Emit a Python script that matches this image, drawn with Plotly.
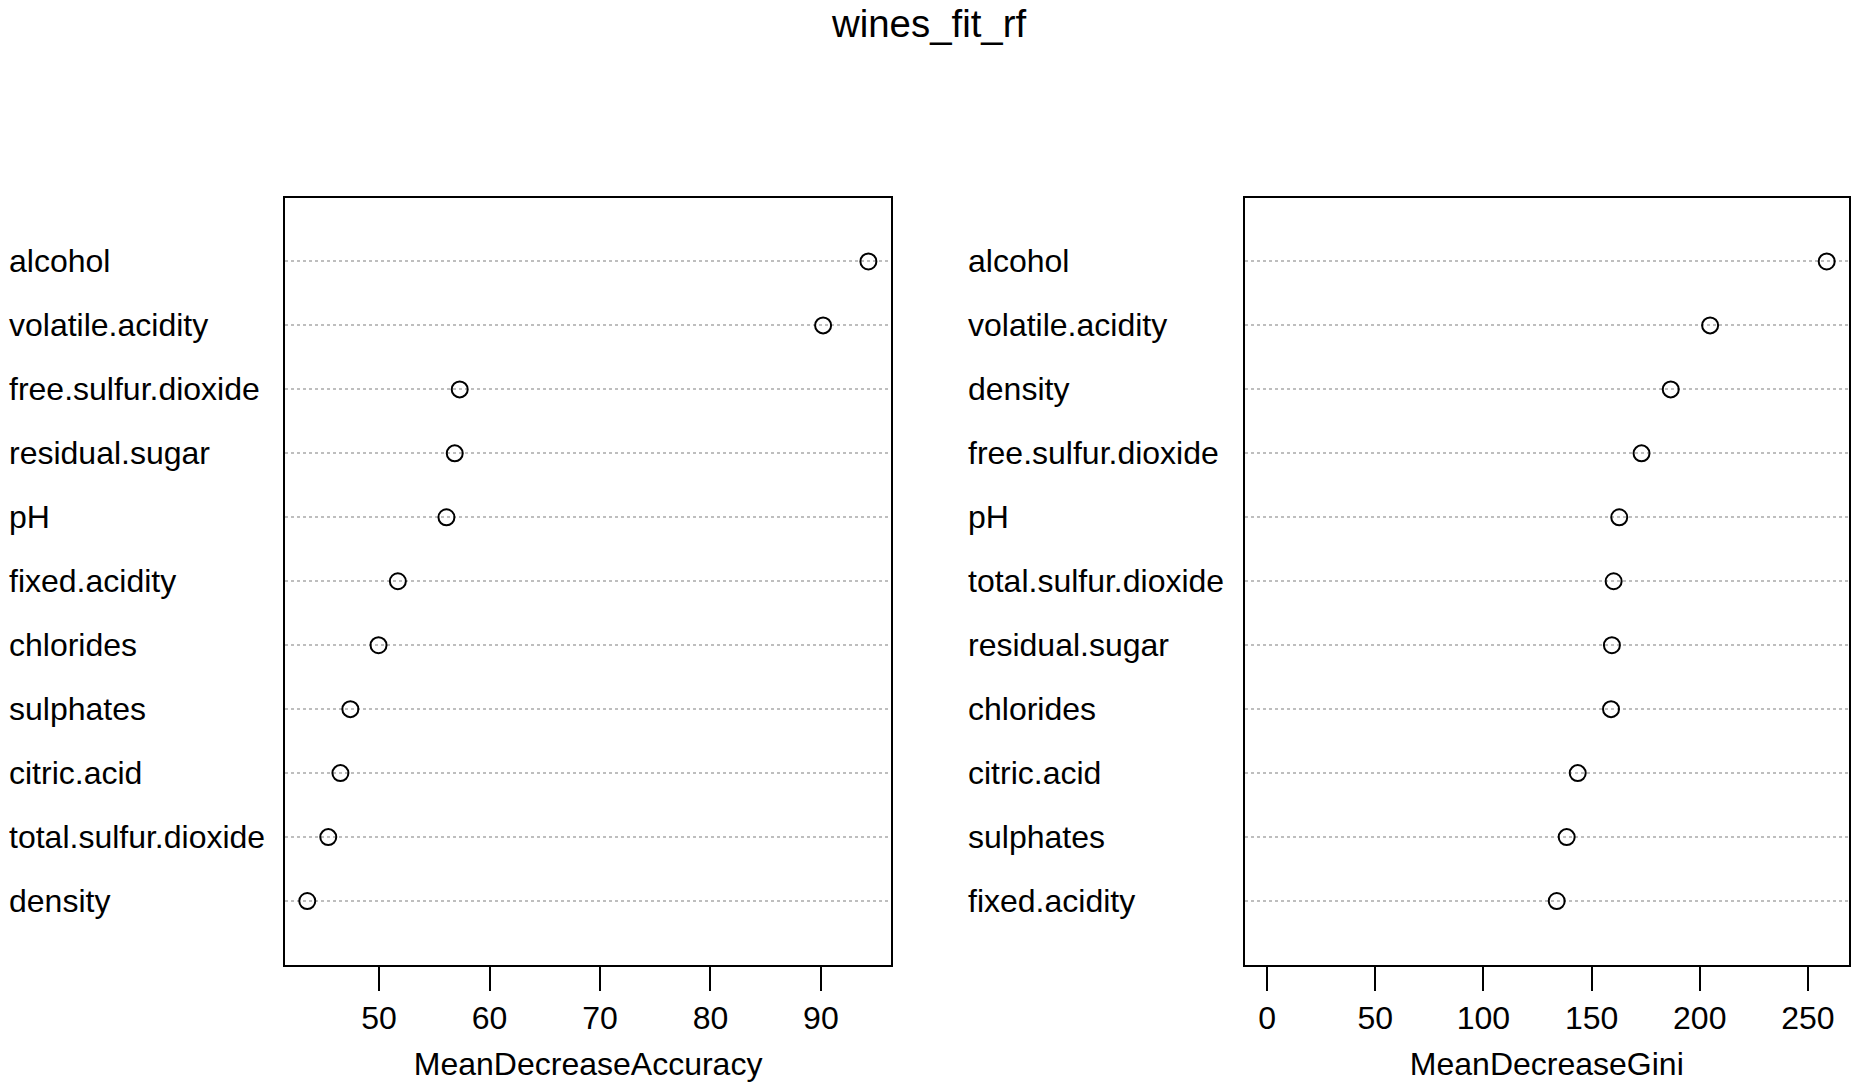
import plotly.graph_objects as go

title_text = "wines_fit_rf"

acc_labels = ["alcohol", "volatile.acidity", "free.sulfur.dioxide", "residual.sugar", "pH",
              "fixed.acidity", "chlorides", "sulphates", "citric.acid",
              "total.sulfur.dioxide", "density"]
acc_values = [94.3, 90.2, 57.3, 56.85, 56.1, 51.7, 49.95, 47.4, 46.5, 45.4, 43.5]

gini_labels = ["alcohol", "volatile.acidity", "density", "free.sulfur.dioxide", "pH",
               "total.sulfur.dioxide", "residual.sugar", "chlorides", "citric.acid",
               "sulphates", "fixed.acidity"]
gini_values = [258.7, 204.8, 186.6, 173.1, 162.8, 160.2, 159.4, 159.0, 143.6, 138.5, 133.9]

acc_ticks = [50, 60, 70, 80, 90]
gini_ticks = [0, 50, 100, 150, 200, 250]

FONT = "Liberation Sans, Arial, Helvetica, sans-serif"
W, H = 1851, 1082

n = len(acc_labels)
rows = [n - i for i in range(n)]

fig = go.Figure()
marker = dict(symbol="circle-open", size=16, color="black", line=dict(width=2, color="black"))
fig.add_trace(go.Scatter(x=acc_values, y=rows, mode="markers", marker=marker,
                         xaxis="x", yaxis="y", showlegend=False, cliponaxis=False))
fig.add_trace(go.Scatter(x=gini_values, y=rows, mode="markers", marker=marker,
                         xaxis="x2", yaxis="y2", showlegend=False, cliponaxis=False))

def xaxis(domain, rng, ticks, title, anchor):
    return dict(domain=domain, range=rng, tickvals=ticks, ticktext=[str(t) for t in ticks],
                ticks="outside", ticklen=24, tickwidth=1.8, tickcolor="black",
                showline=True, mirror=True, linecolor="black", linewidth=1.8,
                showgrid=False, zeroline=False, anchor=anchor,
                tickfont=dict(family=FONT, size=32, color="black"),
                title=dict(text=title, font=dict(family=FONT, size=32, color="black"), standoff=18))

def yaxis(domain, anchor):
    return dict(domain=domain, range=[0, n + 1], tickvals=rows, showticklabels=False,
                ticks="", showline=True, mirror=True, linecolor="black", linewidth=1.8,
                showgrid=True, gridcolor="#BEBEBE", griddash="dot", gridwidth=2,
                zeroline=False, anchor=anchor)

ydom = [1 - 965 / H, 1 - 197.5 / H]
fig.update_layout(
    width=W, height=H,
    margin=dict(l=0, r=0, t=0, b=0),
    paper_bgcolor="white", plot_bgcolor="white",
    font=dict(family=FONT, size=32, color="black"),
    xaxis=xaxis([285.5 / W, 892 / W], [41.5, 96.35], acc_ticks, "MeanDecreaseAccuracy", "y"),
    yaxis=yaxis(ydom, "x"),
    xaxis2=xaxis([1246 / W, 1.0], [-10.36, 269.0], gini_ticks, "MeanDecreaseGini", "y2"),
    yaxis2=yaxis(ydom, "x2"),
)

annotations = [dict(text=title_text, x=930 / W, y=1 - 23.6 / H, xref="paper", yref="paper",
                    xanchor="center", yanchor="middle", showarrow=False,
                    font=dict(family=FONT, size=38.4, color="black"))]
for lab, r in zip(acc_labels, rows):
    annotations.append(dict(text=lab, x=7 / W, y=r, xref="paper", yref="y",
                            xanchor="left", yanchor="middle", showarrow=False,
                            font=dict(family=FONT, size=32, color="black")))
for lab, r in zip(gini_labels, rows):
    annotations.append(dict(text=lab, x=967 / W, y=r, xref="paper", yref="y2",
                            xanchor="left", yanchor="middle", showarrow=False,
                            font=dict(family=FONT, size=32, color="black")))
fig.update_layout(annotations=annotations)

fig.write_html("out.html")
